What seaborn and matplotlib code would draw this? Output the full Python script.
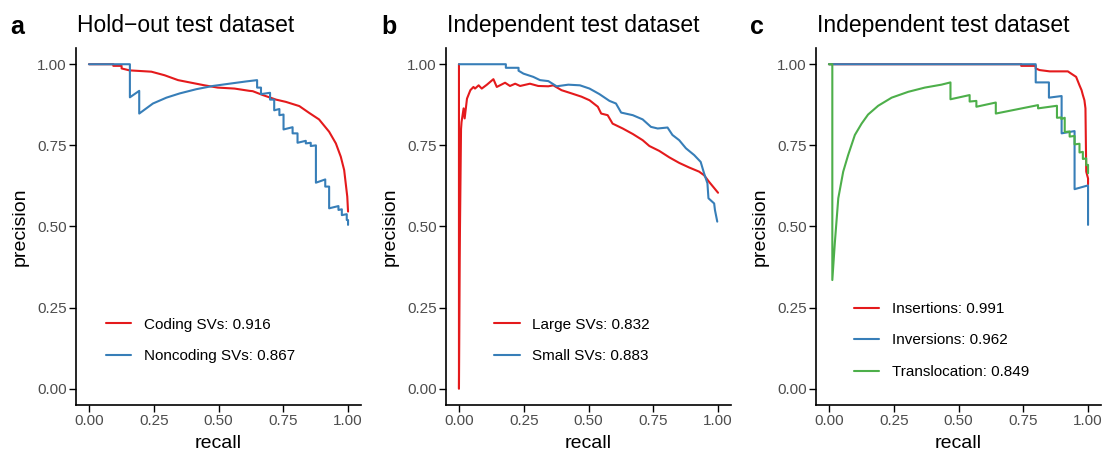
import numpy as np
import pandas as pd
import matplotlib
matplotlib.use("Agg")
import matplotlib.pyplot as plt
import seaborn as sns

# ---------------- data ----------------
# Panel a: Hold-out test dataset
a_coding_recall = [0.0, 0.094, 0.094, 0.126, 0.126, 0.157, 0.200, 0.241, 0.292, 0.344, 0.395, 0.446,
                   0.497, 0.562, 0.619, 0.632, 0.671, 0.722, 0.760, 0.812, 0.850, 0.888, 0.927,
                   0.953, 0.972, 0.985, 0.991, 0.997, 1.0]
a_coding_precision = [1.0, 1.0, 0.995, 0.995, 0.987, 0.981, 0.979, 0.977, 0.966, 0.951, 0.943, 0.935,
                      0.928, 0.925, 0.918, 0.917, 0.905, 0.891, 0.884, 0.871, 0.850, 0.830, 0.792,
                      0.756, 0.715, 0.674, 0.633, 0.592, 0.546]
a_noncoding_recall = [0.0, 0.158, 0.158, 0.194, 0.194, 0.247, 0.299, 0.350, 0.414, 0.478, 0.542, 0.607,
                      0.649, 0.649, 0.664, 0.664, 0.699, 0.699, 0.715, 0.715, 0.735, 0.735, 0.751,
                      0.751, 0.786, 0.786, 0.805, 0.805, 0.837, 0.837, 0.856, 0.856, 0.876, 0.876,
                      0.912, 0.912, 0.927, 0.927, 0.963, 0.963, 0.976, 0.976, 0.995, 0.995, 1.0, 1.0]
a_noncoding_precision = [1.0, 1.0, 0.898, 0.918, 0.848, 0.879, 0.897, 0.910, 0.923, 0.933, 0.940, 0.947,
                         0.951, 0.928, 0.928, 0.908, 0.912, 0.891, 0.891, 0.858, 0.862, 0.843, 0.845,
                         0.799, 0.806, 0.787, 0.787, 0.758, 0.764, 0.756, 0.758, 0.748, 0.750, 0.635,
                         0.645, 0.623, 0.623, 0.556, 0.563, 0.551, 0.553, 0.535, 0.538, 0.520, 0.520, 0.505]

# Panel b: Independent test dataset (size)
b_large_recall = [0.0, 0.0, 0.003, 0.004, 0.008, 0.010, 0.018, 0.022, 0.031, 0.044, 0.056, 0.062, 0.076,
                  0.088, 0.108, 0.133, 0.146, 0.178, 0.197, 0.217, 0.236, 0.274, 0.306, 0.345, 0.364,
                  0.396, 0.435, 0.473, 0.504, 0.536, 0.549, 0.574, 0.593, 0.632, 0.671, 0.709, 0.735,
                  0.773, 0.812, 0.850, 0.888, 0.927, 0.946, 0.965, 1.0]
b_large_precision = [1.0, 0.0, 0.40, 0.50, 0.80, 0.822, 0.864, 0.833, 0.894, 0.920, 0.930, 0.925, 0.935,
                     0.925, 0.937, 0.954, 0.930, 0.943, 0.933, 0.940, 0.933, 0.940, 0.933, 0.932, 0.935,
                     0.920, 0.910, 0.900, 0.889, 0.869, 0.848, 0.843, 0.817, 0.802, 0.785, 0.766, 0.748,
                     0.733, 0.713, 0.696, 0.682, 0.669, 0.658, 0.638, 0.604]
b_small_recall = [0.0, 0.181, 0.181, 0.230, 0.230, 0.249, 0.287, 0.313, 0.345, 0.377, 0.422, 0.467, 0.504,
                  0.542, 0.581, 0.606, 0.626, 0.671, 0.709, 0.741, 0.767, 0.805, 0.824, 0.850, 0.876,
                  0.908, 0.933, 0.946, 0.959, 0.963, 0.985, 0.988, 0.997]
b_small_precision = [1.0, 1.0, 0.989, 0.989, 0.980, 0.971, 0.961, 0.951, 0.948, 0.932, 0.937, 0.935, 0.925,
                     0.908, 0.887, 0.879, 0.851, 0.843, 0.830, 0.807, 0.802, 0.805, 0.782, 0.766, 0.741,
                     0.720, 0.699, 0.664, 0.633, 0.587, 0.571, 0.551, 0.515]

# Panel c: Independent test dataset (type)
c_ins_recall = [0.0, 0.742, 0.742, 0.798, 0.798, 0.813, 0.852, 0.922, 0.935, 0.954, 0.967, 0.975, 0.980,
                0.986, 0.990, 0.993, 1.0, 1.0]
c_ins_precision = [1.0, 1.0, 0.995, 0.995, 0.987, 0.982, 0.978, 0.978, 0.971, 0.961, 0.935, 0.920, 0.905,
                   0.889, 0.864, 0.669, 0.648, 0.630]
c_inv_recall = [0.0, 0.798, 0.798, 0.849, 0.849, 0.898, 0.898, 0.948, 0.948, 0.997, 1.0, 1.0]
c_inv_precision = [1.0, 1.0, 0.944, 0.944, 0.897, 0.902, 0.787, 0.794, 0.615, 0.626, 0.626, 0.505]
c_tra_recall = [0.0, 0.013, 0.013, 0.023, 0.036, 0.055, 0.074, 0.100, 0.126, 0.151, 0.190, 0.242, 0.306,
                0.370, 0.434, 0.469, 0.469, 0.543, 0.543, 0.569, 0.569, 0.644, 0.644, 0.807, 0.807,
                0.880, 0.880, 0.897, 0.897, 0.910, 0.910, 0.929, 0.929, 0.948, 0.948, 0.967, 0.967,
                0.980, 0.980, 0.993, 0.993, 1.0, 1.0]
c_tra_precision = [1.0, 1.0, 0.335, 0.453, 0.587, 0.669, 0.720, 0.782, 0.817, 0.845, 0.872, 0.897, 0.915,
                   0.928, 0.937, 0.944, 0.892, 0.905, 0.885, 0.887, 0.869, 0.882, 0.848, 0.874, 0.864,
                   0.872, 0.835, 0.836, 0.831, 0.835, 0.791, 0.793, 0.777, 0.779, 0.753, 0.755, 0.728,
                   0.730, 0.708, 0.710, 0.689, 0.690, 0.664]

panel_letters = ["a", "b", "c"]
panel_titles = ["Hold\u2212out test dataset", "Independent test dataset", "Independent test dataset"]
tick_values = [0.0, 0.25, 0.50, 0.75, 1.00]
tick_labels = ["0.00", "0.25", "0.50", "0.75", "1.00"]

RED, BLUE, GREEN = "#E41A1C", "#377EB8", "#4DAF4A"

panels = [
    [("Coding SVs: 0.916", a_coding_recall, a_coding_precision, RED),
     ("Noncoding SVs: 0.867", a_noncoding_recall, a_noncoding_precision, BLUE)],
    [("Large SVs: 0.832", b_large_recall, b_large_precision, RED),
     ("Small SVs: 0.883", b_small_recall, b_small_precision, BLUE)],
    [("Insertions: 0.991", c_ins_recall, c_ins_precision, RED),
     ("Inversions: 0.962", c_inv_recall, c_inv_precision, BLUE),
     ("Translocation: 0.849", c_tra_recall, c_tra_precision, GREEN)],
]

# ---------------- style ----------------
sns.set_style("ticks")
plt.rcParams["font.family"] = ["Liberation Sans", "DejaVu Sans"]
plt.rcParams["text.color"] = "black"
plt.rcParams["axes.labelcolor"] = "black"

W, H = 1106, 453
fig = plt.figure(figsize=(W / 100, H / 100), dpi=100)

axes_left_px = [76, 446, 816]
legend_x = [0.105, 0.170, 0.134]
letter_x_px = [10, 381, 750]
LW = 1.5

for i in range(3):
    L = axes_left_px[i]
    ax = fig.add_axes([L / W, (H - 405) / H, 285 / W, 357 / H])
    for label, rec, prec, col in panels[i]:
        df = pd.DataFrame({"recall": rec, "precision": prec})
        sns.lineplot(data=df, x="recall", y="precision", sort=False, estimator=None,
                     color=col, linewidth=LW, label=label, ax=ax)
    ax.set_xlim(-0.05, 1.05)
    ax.set_ylim(-0.05, 1.05)
    ax.set_xticks(tick_values)
    ax.set_xticklabels(tick_labels)
    ax.set_yticks(tick_values)
    ax.set_yticklabels(tick_labels)
    ax.tick_params(axis="both", length=5, width=1.0, color="black", pad=1.5,
                   labelsize=11, labelcolor="#4D4D4D", direction="out")
    for s in ["top", "right"]:
        ax.spines[s].set_visible(False)
    for s in ["left", "bottom"]:
        ax.spines[s].set_linewidth(1.2)
        ax.spines[s].set_color("black")
    ax.set_xlabel("")
    ax.set_ylabel("")
    ax.grid(False)
    leg = ax.legend(loc="center left", bbox_to_anchor=(legend_x[i], (405 - 340.5) / 357),
                    frameon=False, fontsize=11, handlelength=1.64, handletextpad=0.85,
                    labelspacing=1.15, borderpad=0, borderaxespad=0)
    for line in leg.get_lines():
        line.set_linewidth(LW)
    for t in leg.get_texts():
        t.set_color("black")

    # titles, letters, axis labels
    fig.text((L + 1) / W, 1 - 32 / H, panel_titles[i], fontsize=16.5, ha="left", va="baseline",
             color="black")
    fig.text(letter_x_px[i] / W, 1 - 34 / H, panel_letters[i], fontsize=18, fontweight="bold",
             ha="left", va="baseline", color="black")
    fig.text((L - 56) / W, 1 - 226.5 / H, "precision", fontsize=14, rotation=90,
             ha="center", va="center", color="black")
    fig.text((L + 142.5) / W, 1 - 448 / H, "recall", fontsize=14, ha="center", va="baseline",
             color="black")

fig.savefig("out.png", dpi=100)
